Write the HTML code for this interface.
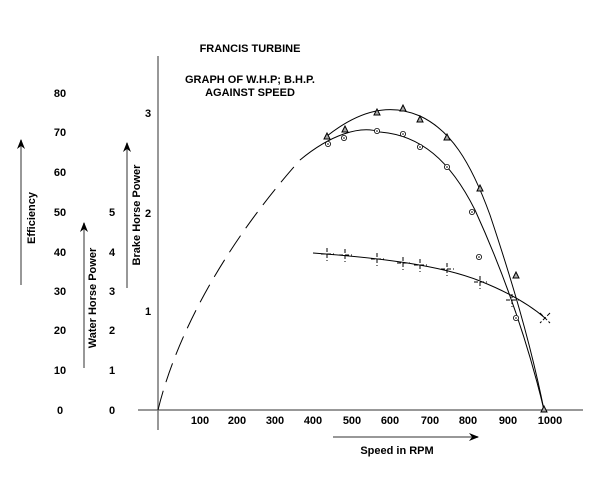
<!DOCTYPE html>
<html><head><style>body{margin:0;background:#fff}svg{display:block}text{font-family:"Liberation Sans",sans-serif;font-weight:bold;font-size:11px;fill:#000}</style></head><body>
<svg width="600" height="500" viewBox="0 0 600 500">
<defs><marker id="ah" markerWidth="10" markerHeight="8" refX="9" refY="4" orient="auto" markerUnits="userSpaceOnUse"><path d="M0,0 L10,4 L0,8 L3,4z" fill="#000"/></marker></defs>
<g stroke="#777" stroke-width="1.5">
<line x1="138" y1="410" x2="583" y2="410"/>
<line x1="158" y1="56" x2="158" y2="430"/>
</g>
<g stroke="#777" stroke-width="1.5" marker-end="url(#ah)">
<line x1="21" y1="285" x2="21" y2="140"/>
<line x1="84" y1="368" x2="84" y2="223"/>
<line x1="127" y1="288" x2="127" y2="143"/>
<line x1="333" y1="437" x2="478" y2="437"/>
</g>
<text x="250" y="52" text-anchor="middle">FRANCIS TURBINE</text>
<text x="250" y="83" text-anchor="middle">GRAPH OF W.H.P; B.H.P.</text>
<text x="250" y="96" text-anchor="middle">AGAINST SPEED</text>
<text x="397" y="454" text-anchor="middle">Speed in RPM</text>
<text transform="translate(35,218) rotate(-90)" text-anchor="middle">Efficiency</text>
<text transform="translate(96,298) rotate(-90)" text-anchor="middle">Water Horse Power</text>
<text transform="translate(140,215) rotate(-90)" text-anchor="middle">Brake Horse Power</text>
<g text-anchor="middle">
<text x="60" y="97">80</text><text x="60" y="136">70</text><text x="60" y="176">60</text><text x="60" y="216">50</text><text x="60" y="256">40</text><text x="60" y="295">30</text><text x="60" y="334">20</text><text x="60" y="374">10</text><text x="60" y="414">0</text>
<text x="112" y="216">5</text><text x="112" y="256">4</text><text x="112" y="295">3</text><text x="112" y="334">2</text><text x="112" y="374">1</text><text x="112" y="414">0</text>
<text x="148" y="117">3</text><text x="148" y="217">2</text><text x="148" y="315">1</text>
<text x="200" y="424">100</text><text x="237" y="424">200</text><text x="275" y="424">300</text><text x="313" y="424">400</text><text x="352" y="424">500</text><text x="390" y="424">600</text><text x="430" y="424">700</text><text x="468" y="424">800</text><text x="508" y="424">900</text><text x="550" y="424">1000</text>
</g>
<g fill="none" stroke="#000" stroke-width="1">
<path d="M158,410 C175,340 220,250 300,160" stroke-dasharray="20,9"/>
<path d="M300,160 C330,135 360,125 380,132 C420,135 450,160 475,210 C500,265 525,330 544,410"/>
<path d="M327,136 C360,110 390,103 420,116 C450,130 470,160 490,215 C510,275 530,340 544,410"/>
<path d="M313,253 C380,258 440,265 480,281 C510,293 530,305 545,318"/>
</g>
<g fill="#aaa" stroke="#000" stroke-width="1">
<path d="M324,139 l3,-6 l3,6z M342,132 l3,-6 l3,6z M374,115 l3,-6 l3,6z M400,111 l3,-6 l3,6z M417,122 l3,-6 l3,6z M444,140 l3,-6 l3,6z M477,191 l3,-6 l3,6z M513,278 l3,-6 l3,6z M541,412 l3,-6 l3,6z"/>
</g>
<g fill="#fff" stroke="#000" stroke-width="0.8">
<circle cx="328" cy="144" r="2.6"/><circle cx="344" cy="138" r="2.6"/><circle cx="377" cy="131" r="2.6"/><circle cx="403" cy="134" r="2.6"/><circle cx="420" cy="147" r="2.6"/><circle cx="447" cy="167" r="2.6"/><circle cx="472" cy="212" r="2.6"/><circle cx="479" cy="257" r="2.6"/><circle cx="516" cy="318" r="2.6"/>
</g>
<g fill="#000">
<circle cx="328" cy="144" r="0.8"/><circle cx="344" cy="138" r="0.8"/><circle cx="377" cy="131" r="0.8"/><circle cx="403" cy="134" r="0.8"/><circle cx="420" cy="147" r="0.8"/><circle cx="447" cy="167" r="0.8"/><circle cx="472" cy="212" r="0.8"/><circle cx="479" cy="257" r="0.8"/><circle cx="516" cy="318" r="0.8"/>
</g>
<g fill="none" stroke="#000" stroke-width="1">
<path stroke-dasharray="4,2" d="M327,248 v13 M321,254 h13 M345,249 v13 M339,255 h13 M377,253 v13 M371,259 h13 M403,257 v13 M397,263 h13 M420,259 v13 M414,265 h13 M447,263 v13 M441,269 h13 M480,276 v13 M474,282 h13 M512,294 v13 M506,300 h13"/>
<path stroke-dasharray="4,2" d="M540,313 l10,10 M550,313 l-10,10"/>
</g>
</svg>
</body></html>
